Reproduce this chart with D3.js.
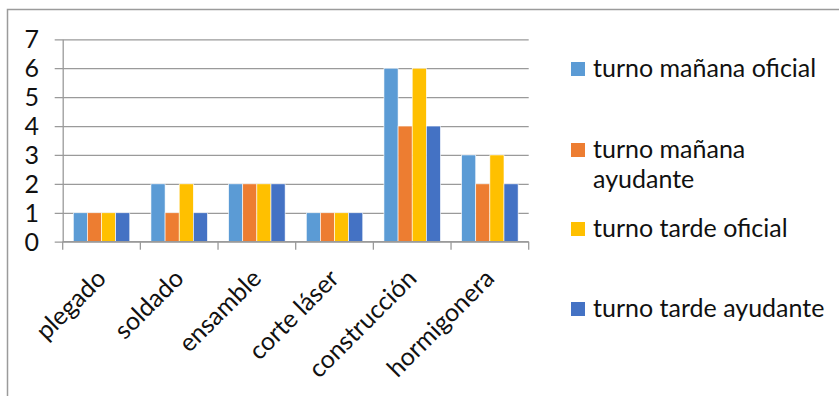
<!DOCTYPE html>
<html>
<head>
<meta charset="utf-8">
<script src="https://cdn.jsdelivr.net/npm/d3@7/dist/d3.min.js"></script>
<style>
  html, body { margin: 0; padding: 0; background: #fff; }
  svg { display: block; }
  text { font-family: Lato, "Open Sans", sans-serif; fill: #111; }
</style>
</head>
<body>
<svg id="chart" width="839" height="396"></svg>
<script>
// Categories along the x axis
const categories = ["plegado", "soldado", "ensamble", "corte láser", "construcción", "hormigonera"];

// Series names (legend lines) and their colours
const seriesNames = ["turno mañana oficial", "turno mañana ayudante", "turno tarde oficial", "turno tarde ayudante"];
const legendLines = [["turno mañana oficial"], ["turno mañana", "ayudante"], ["turno tarde oficial"], ["turno tarde ayudante"]];
const seriesColors = ["#5B9BD5", "#ED7D31", "#FFC000", "#4472C4"];

// Values per series, one per category
const mananaOficial  = [1, 2, 2, 1, 6, 3];
const mananaAyudante = [1, 1, 2, 1, 4, 2];
const tardeOficial   = [1, 2, 2, 1, 6, 3];
const tardeAyudante  = [1, 1, 2, 1, 4, 2];
const seriesValues = [mananaOficial, mananaAyudante, tardeOficial, tardeAyudante];

// Y axis ticks
const yTicks = [0, 1, 2, 3, 4, 5, 6, 7];

const svg = d3.select("#chart");

// Outer chart frame
svg.append("rect")
  .attr("x", 7.5).attr("y", 9.5)
  .attr("width", 900).attr("height", 500)
  .attr("fill", "none").attr("stroke", "#9b9b9b").attr("stroke-width", 1.5);

const plot = { left: 62.7, right: 528.7, top: 39.3, bottom: 241.7 };

const x0 = d3.scaleBand().domain(categories).range([plot.left, plot.right]).paddingInner(0).paddingOuter(0);
const x1 = d3.scaleBand().domain(d3.range(seriesNames.length)).range([0, x0.bandwidth()]).paddingInner(0).paddingOuter(0.75);
const y = d3.scaleLinear().domain([0, 7]).range([plot.bottom, plot.top]);

const gridColor = "#9a9a9a";
const fontSize = 25;

// Horizontal gridlines with outside ticks
const yAxis = d3.axisLeft(y).tickValues(yTicks).tickSize(-(plot.right - plot.left)).tickSizeOuter(0).tickFormat("");
const gy = svg.append("g").attr("transform", `translate(${plot.left},0)`).call(yAxis);
gy.selectAll(".tick line").attr("stroke", gridColor).attr("stroke-width", 1.3).attr("x1", -8);
gy.select(".domain").attr("stroke", gridColor).attr("stroke-width", 1.3);

// Y tick labels
svg.append("g").selectAll("text").data(yTicks).join("text")
  .attr("x", 39).attr("y", d => y(d)).attr("dy", "0.36em")
  .attr("text-anchor", "end").attr("font-size", fontSize)
  .text(d => d);

// Bars
const groups = svg.append("g").selectAll("g").data(categories).join("g")
  .attr("transform", d => `translate(${x0(d)},0)`);
groups.selectAll("rect")
  .data((c, ci) => seriesValues.map((vals, si) => ({ si, v: vals[ci] })))
  .join("rect")
  .attr("x", d => x1(d.si))
  .attr("width", x1.bandwidth())
  .attr("y", d => y(d.v))
  .attr("height", d => y(0) - y(d.v))
  .attr("fill", d => seriesColors[d.si])
  .attr("stroke", "#ffffff").attr("stroke-width", 0.6);

// Category axis with ticks between categories
const tickPos = d3.range(categories.length + 1).map(i => plot.left + i * x0.bandwidth());
svg.append("line")
  .attr("x1", plot.left).attr("x2", plot.right)
  .attr("y1", y(0)).attr("y2", y(0))
  .attr("stroke", gridColor).attr("stroke-width", 1.3);
svg.append("g").selectAll("line").data(tickPos).join("line")
  .attr("x1", d => d).attr("x2", d => d)
  .attr("y1", y(0)).attr("y2", y(0) + 8)
  .attr("stroke", gridColor).attr("stroke-width", 1.3);

// Rotated category labels
svg.append("g").selectAll("text").data(categories).join("text")
  .attr("text-anchor", "end").attr("font-size", fontSize)
  .attr("transform", d => `translate(${x0(d) + x0.bandwidth() / 2 + 6},280) rotate(-45)`)
  .text(d => d);

// Legend
const legendBaselines = [77, 158, 237, 317];
const legend = svg.append("g").selectAll("g").data(legendLines).join("g");
legend.append("rect")
  .attr("x", 571).attr("y", (d, i) => legendBaselines[i] - 15)
  .attr("width", 14).attr("height", 14)
  .attr("fill", (d, i) => seriesColors[i]);
legend.each(function (lines, i) {
  const t = d3.select(this).append("text").attr("font-size", fontSize);
  lines.forEach((ln, k) => {
    t.append("tspan").attr("x", 593).attr("y", legendBaselines[i] + k * 30).text(ln);
  });
});
</script>
</body>
</html>
